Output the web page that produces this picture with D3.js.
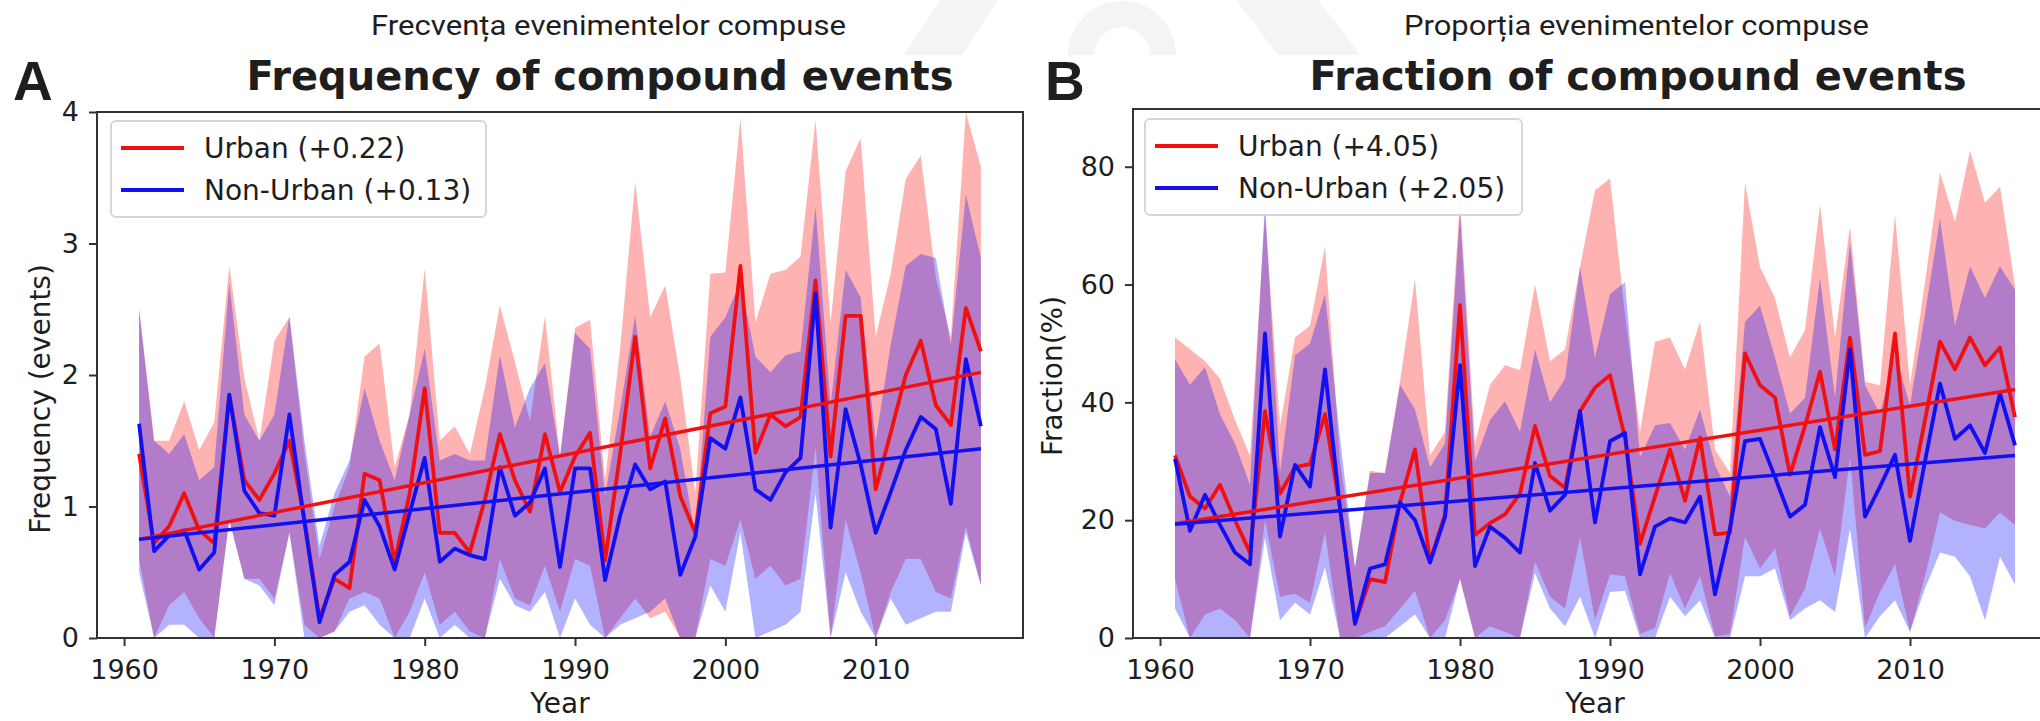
<!DOCTYPE html>
<meta charset="utf-8">
<style>
body { margin: 0; background: #fff; }
text { fill: #1e1e1e; }
</style>
<body>
<script src="https://d3js.org/d3.v7.min.js"></script>
<script>

// years on the x axis
var years = d3.range(1961, 2018);
var xTicks = [1960, 1970, 1980, 1990, 2000, 2010];

// panel A: frequency of compound events (events)
var freqUrban = [1.40, 0.72, 0.85, 1.10, 0.82, 0.72, 1.85, 1.20, 1.05, 1.25, 1.50, 0.90, 0.15, 0.45, 0.38, 1.25, 1.20, 0.58, 1.10, 1.90,
  0.80, 0.80, 0.65, 1.05, 1.55, 1.20, 0.96, 1.55, 1.11, 1.38, 1.56, 0.59, 1.40, 2.29, 1.29, 1.67, 1.08, 0.80, 1.71, 1.76,
  2.83, 1.41, 1.70, 1.61, 1.68, 2.72, 1.38, 2.45, 2.45, 1.13, 1.56, 2.00, 2.26, 1.77, 1.62, 2.51, 2.18];
var freqUrbanHi = [2.50, 1.50, 1.50, 1.80, 1.43, 1.64, 2.83, 1.98, 1.50, 2.26, 2.44, 1.40, 0.60, 1.00, 1.30, 2.14, 2.24, 1.30, 1.70, 2.81,
  1.50, 1.61, 1.40, 1.90, 2.53, 2.10, 1.65, 2.45, 1.38, 2.36, 2.42, 1.20, 2.20, 3.47, 2.44, 2.68, 1.98, 1.10, 2.77, 2.78,
  3.95, 2.40, 2.77, 2.80, 2.90, 3.94, 2.40, 3.55, 3.80, 2.29, 2.77, 3.49, 3.67, 2.74, 2.29, 4.00, 3.58];
var freqUrbanLo = [0.60, 0.00, 0.25, 0.35, 0.15, 0.00, 0.90, 0.45, 0.45, 0.30, 0.80, 0.10, 0.00, 0.05, 0.30, 0.35, 0.30, 0.00, 0.20, 0.50,
  0.10, 0.20, 0.05, 0.00, 0.60, 0.30, 0.25, 0.55, 0.20, 0.60, 0.55, 0.00, 0.15, 0.30, 0.15, 0.20, 0.00, 0.00, 0.60, 0.55,
  0.90, 0.45, 0.55, 0.40, 0.45, 1.45, 0.00, 0.90, 0.50, 0.00, 0.35, 0.60, 0.60, 0.35, 0.30, 0.85, 0.40];
var freqNonUrban = [1.63, 0.66, 0.78, 0.82, 0.52, 0.65, 1.85, 1.12, 0.95, 0.93, 1.70, 0.88, 0.12, 0.48, 0.58, 1.05, 0.85, 0.52, 0.95, 1.37,
  0.58, 0.68, 0.63, 0.60, 1.30, 0.93, 1.03, 1.29, 0.54, 1.29, 1.29, 0.44, 0.93, 1.32, 1.13, 1.19, 0.48, 0.77, 1.52, 1.44,
  1.83, 1.13, 1.05, 1.26, 1.37, 2.62, 0.84, 1.74, 1.32, 0.80, 1.11, 1.43, 1.68, 1.59, 1.02, 2.12, 1.61];
var freqNonUrbanHi = [2.50, 1.50, 1.40, 1.55, 1.20, 1.30, 2.70, 1.70, 1.50, 1.70, 2.45, 1.50, 0.70, 1.10, 1.35, 1.90, 1.50, 1.20, 1.70, 2.20,
  1.35, 1.40, 1.35, 1.35, 2.15, 1.60, 1.90, 2.09, 1.38, 2.32, 2.20, 1.08, 1.74, 2.45, 1.53, 1.80, 1.44, 0.78, 2.29, 2.44,
  2.71, 2.14, 2.02, 2.15, 2.18, 3.28, 1.77, 2.80, 2.59, 1.50, 2.23, 2.83, 2.92, 2.89, 2.23, 3.37, 2.89];
var freqNonUrbanLo = [0.50, 0.00, 0.10, 0.10, 0.00, 0.00, 0.90, 0.45, 0.40, 0.25, 0.80, 0.00, 0.00, 0.05, 0.20, 0.25, 0.10, 0.00, 0.00, 0.30,
  0.00, 0.10, 0.00, 0.00, 0.45, 0.25, 0.20, 0.35, 0.00, 0.30, 0.10, 0.00, 0.10, 0.15, 0.20, 0.30, 0.00, 0.00, 0.40, 0.20,
  0.80, 0.00, 0.05, 0.10, 0.20, 1.10, 0.00, 0.50, 0.20, 0.00, 0.30, 0.10, 0.15, 0.20, 0.20, 0.80, 0.40];
// trend lines, value at 1961 and at 2017
var freqTrendUrban = [0.75, 2.02];
var freqTrendNonUrban = [0.75, 1.44];

// panel B: fraction of compound events (%)
var fracUrban = [31, 24, 22, 26, 20, 14.5, 38.5, 24.5, 29, 29.5, 38, 22, 2.5, 10, 9.5, 23, 32, 13, 21, 56.5,
  17.5, 19.5, 21, 24.5, 36, 27.5, 25.5, 38.5, 42.5, 44.6, 34, 16, 24, 32, 23.3, 34, 17.6, 17.9, 48.3, 42.9,
  40.8, 27.7, 36, 45.2, 32, 51, 31.1, 31.7, 51.7, 24, 37, 50.3, 45.6, 51, 46.3, 49.3, 37.5];
var fracUrbanHi = [51, 49, 47, 44, 37, 31, 72, 36, 51, 53, 66.5, 30, 12, 28.4, 28, 43.5, 61, 31, 35, 74.6,
  33, 43, 46.3, 45.5, 60, 47, 49, 63, 76, 78, 55, 35, 50.3, 51, 45.6, 53.7, 32, 28, 77.3, 63,
  57.7, 47.6, 52.3, 73.6, 51, 69.9, 43.5, 42.9, 71.9, 42.9, 60.4, 79, 70.6, 82.7, 73.9, 76.6, 59.8];
var fracUrbanLo = [10, 0, 4, 5, 3, 0, 20, 7, 7.5, 6, 18, 0, 0, 1, 2, 5, 8, 0, 3, 10,
  0, 2, 1, 0, 13, 7, 5, 17, 3, 10.8, 10.5, 0.7, 1.7, 11, 5, 10.5, 0.3, 0.7, 17.2, 11.8,
  15.2, 3.7, 8.4, 18.6, 10.5, 30.7, 1.7, 7.8, 12.5, 1, 10.5, 21.3, 19.9, 19.2, 18.6, 21.3, 19.2];
var fracNonUrban = [30.4, 18.2, 24.3, 19.2, 14.5, 12.5, 51.7, 17.2, 29.4, 25.7, 45.6, 22, 2.4, 11.8, 12.5, 23, 20, 12.8, 20.5, 46.3,
  12.2, 18.9, 17, 14.5, 29.7, 21.6, 24.3, 38.5, 19.6, 33.4, 34.8, 10.8, 18.9, 20.3, 19.6, 24, 7.4, 18.6, 33.4, 33.8,
  27.3, 20.6, 22.6, 35.8, 27.3, 49, 20.6, 25.7, 31.1, 16.5, 30, 43.2, 33.8, 36.1, 31.4, 41.5, 32.7];
var fracNonUrbanHi = [47.3, 43, 46, 38, 33, 26, 74, 28, 48, 50, 58.4, 34, 12, 28, 28, 43, 38.8, 29, 33, 72.2,
  30, 37, 40.2, 35, 49, 40, 44, 63, 47.6, 58.4, 60.4, 30.7, 36.1, 36.5, 32, 38.8, 29.4, 24, 53.7, 56.4,
  47.6, 38.1, 40.8, 61.1, 40.8, 67.2, 42.9, 38.1, 48.3, 39.5, 55, 71.2, 53, 63.1, 57.7, 63.1, 59.1];
var fracNonUrbanLo = [5, 0, 0, 0, 0, 0, 17, 3, 6, 4, 12, 0, 0, 0, 0, 2, 4, 0, 0, 10,
  0, 0, 0, 0, 11, 5, 2, 7, 0, 7.8, 8, 0, 0, 7, 3.7, 6.4, 0, 0, 10.5, 10.5,
  11.8, 3, 5, 6.4, 4.4, 18.6, 0, 3.7, 6.4, 1, 8.4, 14.5, 13.8, 10.5, 3, 13.8, 9.1];
var fracTrendUrban = [19.4, 42.2];
var fracTrendNonUrban = [19.3, 31.0];

var W = 2040, H = 721;
var red = "#f01010", blue = "#1010f0";

var svg = d3.select("body").append("svg")
    .attr("width", W)
    .attr("height", H);

// faint watermark in the top strip
var wm = svg.append("g").attr("fill", "#f4f4f4");
wm.append("path").attr("d", "M940,0 L998,0 L962,55 L904,55 Z");
wm.append("path").attr("d", "M1236,0 L1318,0 L1360,55 L1278,55 Z");
wm.append("path").attr("d", "M1068,55 A54,54 0 0 1 1176,55 L1150,55 A28,28 0 0 0 1094,55 Z");

// top captions
svg.append("text")
    .attr("x", 371).attr("y", 35)
    .attr("textLength", 475).attr("lengthAdjust", "spacingAndGlyphs")
    .style("font-family", "Roboto").style("font-size", "28px")
    .text("Frecvența evenimentelor compuse");
svg.append("text")
    .attr("x", 1404).attr("y", 35)
    .attr("textLength", 465).attr("lengthAdjust", "spacingAndGlyphs")
    .style("font-family", "Roboto").style("font-size", "28px")
    .text("Proporția evenimentelor compuse");

function drawPanel(p) {
  var x = d3.scaleLinear().domain([1958.2, 2019.8]).range(p.xRange);
  var y = d3.scaleLinear().domain(p.yDomain).range(p.yRange);
  var g = svg.append("g");

  svg.append("clipPath").attr("id", "clip" + p.id)
    .append("rect")
      .attr("x", p.xRange[0]).attr("y", p.yRange[1])
      .attr("width", p.xRange[1] - p.xRange[0])
      .attr("height", p.yRange[0] - p.yRange[1]);

  var plot = g.append("g").attr("clip-path", "url(#clip" + p.id + ")");

  var band = d3.area()
      .x(function(d, i) { return x(years[i]); })
      .y0(function(d) { return y(d[0]); })
      .y1(function(d) { return y(d[1]); });
  var line = d3.line()
      .x(function(d, i) { return x(years[i]); })
      .y(function(d) { return y(d); });

  plot.append("path").datum(d3.zip(p.urbanLo, p.urbanHi))
      .attr("d", band).attr("fill", "#ff0000").attr("fill-opacity", 0.3);
  plot.append("path").datum(d3.zip(p.nonLo, p.nonHi))
      .attr("d", band).attr("fill", "#0000ff").attr("fill-opacity", 0.3);

  plot.append("path").datum(p.urban)
      .attr("d", line).attr("fill", "none").attr("stroke", red)
      .attr("stroke-width", 3.8).attr("stroke-linejoin", "round");
  plot.append("path").datum(p.non)
      .attr("d", line).attr("fill", "none").attr("stroke", blue)
      .attr("stroke-width", 3.8).attr("stroke-linejoin", "round");

  // linear trends
  var ends = [years[0], years[years.length - 1]];
  [[p.trendUrban, red], [p.trendNon, blue]].forEach(function(t) {
    plot.append("line")
        .attr("x1", x(ends[0])).attr("y1", y(t[0][0]))
        .attr("x2", x(ends[1])).attr("y2", y(t[0][1]))
        .attr("stroke", t[1]).attr("stroke-width", 3.5);
  });

  // axes
  var xa = g.append("g")
      .attr("transform", "translate(0," + p.yRange[0] + ")")
      .call(d3.axisBottom(x).tickValues(xTicks).tickFormat(d3.format("d"))
            .tickSize(8).tickPadding(14));
  var ya = g.append("g")
      .attr("transform", "translate(" + p.xRange[0] + ",0)")
      .call(d3.axisLeft(y).tickValues(p.yTicks).tickFormat(d3.format("d"))
            .tickSize(8).tickPadding(10));
  [xa, ya].forEach(function(a) {
    a.select(".domain").remove();
    a.selectAll("line").attr("stroke", "#333").attr("stroke-width", 2);
    a.selectAll("text").attr("fill", "#1e1e1e")
        .style("font-family", "DejaVu Sans").style("font-size", "27px");
  });

  // frame
  g.append("rect")
      .attr("x", p.xRange[0]).attr("y", p.yRange[1])
      .attr("width", p.xRange[1] - p.xRange[0])
      .attr("height", p.yRange[0] - p.yRange[1])
      .attr("fill", "none").attr("stroke", "#333").attr("stroke-width", 2);

  // labels
  g.append("text")
      .attr("x", (p.xRange[0] + p.xRange[1]) / 2).attr("y", 713)
      .attr("text-anchor", "middle")
      .style("font-family", "DejaVu Sans").style("font-size", "28px")
      .text("Year");
  g.append("text")
      .attr("transform", "translate(" + p.yLabelPos[0] + "," + p.yLabelPos[1] + ") rotate(-90)")
      .attr("text-anchor", "middle")
      .style("font-family", "DejaVu Sans").style("font-size", "28px")
      .text(p.yLabel);
  g.append("text")
      .attr("x", p.titleX).attr("y", 90)
      .attr("text-anchor", "middle")
      .style("font-family", "DejaVu Sans").style("font-weight", "bold").style("font-size", "40px")
      .attr("fill", "#111")
      .text(p.title);
  g.append("text")
      .attr("x", p.letterX).attr("y", 100)
      .style("font-family", "Liberation Sans").style("font-weight", "bold").style("font-size", "55px")
      .attr("fill", "#111")
      .text(p.letter);

  // legend
  var lg = g.append("g").attr("transform", "translate(" + p.legend[0] + "," + p.legend[1] + ")");
  lg.append("rect")
      .attr("width", p.legend[2]).attr("height", 96).attr("rx", 5)
      .attr("fill", "#fff").attr("fill-opacity", 0.8)
      .attr("stroke", "#d6d6d6").attr("stroke-width", 2);
  p.legendItems.forEach(function(it, i) {
    var yy = 27 + i * 42;
    lg.append("line").attr("x1", 10).attr("x2", 73).attr("y1", yy).attr("y2", yy)
        .attr("stroke", it[1]).attr("stroke-width", 3.8);
    lg.append("text").attr("x", 93).attr("y", yy).attr("dy", "0.36em")
        .style("font-family", "DejaVu Sans").style("font-size", "28px")
        .text(it[0]);
  });
}

drawPanel({
  id: "A", letter: "A", letterX: 13, title: "Frequency of compound events", titleX: 600,
  xRange: [97, 1023], yRange: [638, 112], yDomain: [0, 4], yTicks: [0, 1, 2, 3, 4],
  yLabel: "Frequency (events)", yLabelPos: [50, 399],
  urban: freqUrban, urbanHi: freqUrbanHi, urbanLo: freqUrbanLo,
  non: freqNonUrban, nonHi: freqNonUrbanHi, nonLo: freqNonUrbanLo,
  trendUrban: freqTrendUrban, trendNon: freqTrendNonUrban,
  legend: [111, 121, 375],
  legendItems: [["Urban (+0.22)", red], ["Non-Urban (+0.13)", blue]]
});

drawPanel({
  id: "B", letter: "B", letterX: 1045, title: "Fraction of compound events", titleX: 1638,
  xRange: [1133, 2057], yRange: [638, 109], yDomain: [0, 89.8], yTicks: [0, 20, 40, 60, 80],
  yLabel: "Fraction(%)", yLabelPos: [1062, 376],
  urban: fracUrban, urbanHi: fracUrbanHi, urbanLo: fracUrbanLo,
  non: fracNonUrban, nonHi: fracNonUrbanHi, nonLo: fracNonUrbanLo,
  trendUrban: fracTrendUrban, trendNon: fracTrendNonUrban,
  legend: [1145, 119, 377],
  legendItems: [["Urban (+4.05)", red], ["Non-Urban (+2.05)", blue]]
});

</script>
</body>
